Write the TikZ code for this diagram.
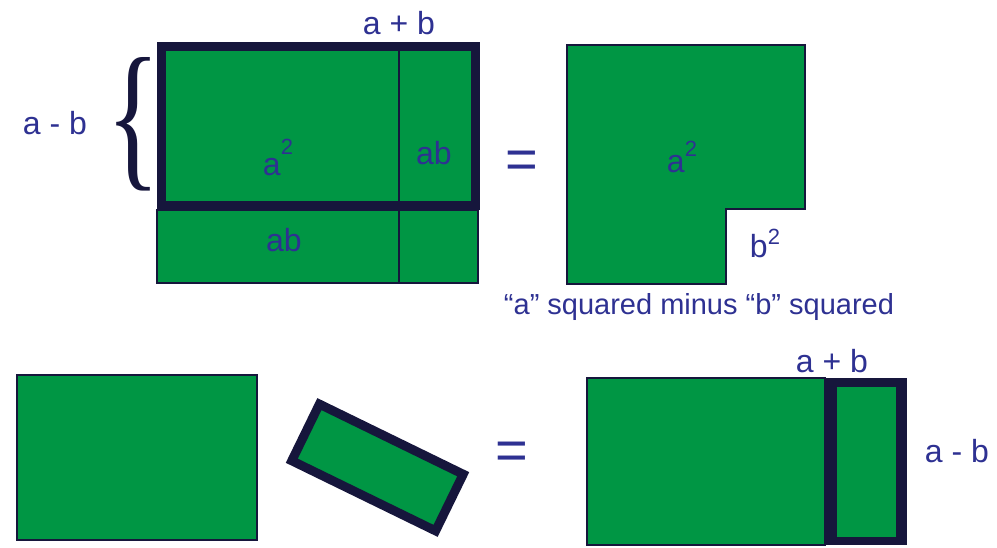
\documentclass[tikz,border=0pt]{standalone}
\usepackage{fontspec}
\setmainfont{Liberation Sans}
\newfontfamily\bracefont{Liberation Serif}
\usetikzlibrary{positioning}
\definecolor{leaf}{RGB}{0,150,68}
\definecolor{ink}{RGB}{22,22,60}
\definecolor{txt}{RGB}{46,49,146}
\newcommand{\supnum}[1]{\raisebox{#1}{\fontsize{22}{26}\selectfont 2}}

\begin{document}
\begin{tikzpicture}[
  x=1pt, y=1pt,
  patch/.style={fill=leaf, draw=ink, line width=1.5pt},
  rim/.style={draw=ink, line width=9pt},
  lbl/.style={text=txt, font=\fontsize{32}{38}\selectfont,
    inner sep=0pt, anchor=base},
  eq/.style={text=txt, font=\fontsize{56}{60}\selectfont,
    inner sep=0pt, anchor=base},
]
  \useasboundingbox (0,0) rectangle (997,548);

  % top left: the square cut and regrouped
  \fill[leaf] (157,265) rectangle (479,506);
  \draw[ink, line width=1.5pt] (157,265) rectangle (478,338);
  \draw[ink, line width=1.5pt] (399,265) -- (399,506);
  \draw[rim] (161.5,342.5) rectangle (475.5,501.5);
  \node[text=ink, inner sep=0pt, anchor=east] (brace) at (161,424)
    {\resizebox{54pt}{112pt}{\bracefont\{}};

  \node[lbl] (sumtop)  at (399,513) {a + b};
  \node[lbl] (difftop) at (55,413)  {a - b};
  \node[lbl] (sqleft)  at (278,372) {a\supnum{21pt}};
  \node[lbl] (abright) at (434,383) {ab};
  \node[lbl] (ablow)   at (284,296) {ab};

  \node[eq] (eqtop) at (521.5,369) {=};

  % top right: a^2 with the b^2 corner removed
  \draw[patch] (567,503) -- (805,503) -- (805,339) -- (726,339)
    -- (726,264) -- (567,264) -- cycle;
  \node[lbl] (sqright) at (682,375) {a\supnum{16pt}};
  \node[lbl] (sqcut)   at (765,290) {b\supnum{13pt}};
  \node[lbl, font=\fontsize{29}{34}\selectfont] (caption)
    at (699,233) {“a” squared minus “b” squared};

  % bottom: the strip moved to the side
  \draw[patch] (17,8) rectangle (257,173);
  \node[rotate=-26, minimum width=160pt, minimum height=63pt,
        inner sep=0pt, fill=leaf, draw=ink, line width=9pt]
    (tilt) at (377.5,80.5) {};

  \node[eq] (eqbot) at (511.5,78.5) {=};

  \draw[patch] (587,3) rectangle (825,170);
  \fill[ink] (825,3) rectangle (907,170);
  \fill[leaf] (837,11) rectangle (896,161);
  \node[lbl] (sumbot)  at (832,175) {a + b};
  \node[lbl] (diffbot) at (957,85)  {a - b};
\end{tikzpicture}
\end{document}
